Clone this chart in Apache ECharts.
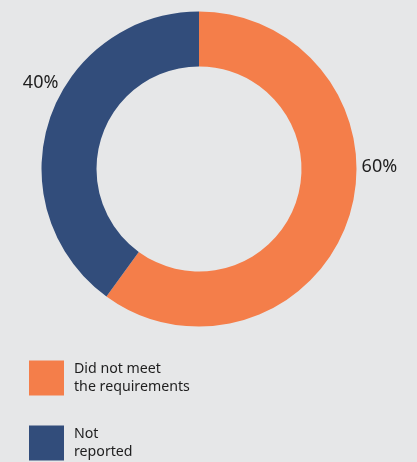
<!DOCTYPE html>
<html>
<head>
<meta charset="utf-8">
<script src="https://cdn.jsdelivr.net/npm/echarts@6/dist/echarts.min.js"></script>
<style>
html,body{margin:0;padding:0;background:#E6E7E8;}
#c{width:417px;height:462px;}
</style>
</head>
<body>
<div id="c"></div>
<script>
const categories = ["Did not meet\nthe requirements", "Not\nreported"];
const values = [60, 40];
const colors = ["#F47E4A", "#324D7B"];

const legendTops = [360, 425];
const labelShift = [[4, -52], [18, -36]];
const chart = echarts.init(document.getElementById('c'), null, {renderer: 'canvas'});
chart.setOption({
  backgroundColor: '#E6E7E8',
  animation: false,
  legend: categories.map((n, i) => ({
    orient: 'vertical',
    left: 29,
    top: legendTops[i],
    padding: 0,
    itemWidth: 35,
    itemHeight: 35,
    icon: 'rect',
    selectedMode: false,
    textStyle: {
      fontFamily: 'Noto Sans',
      fontSize: 14.2,
      lineHeight: 18,
      color: '#1E1E1E',
      padding: [0, 0, 0, 5]
    },
    data: [n]
  })),
  series: [{
    type: 'pie',
    center: [199, 169],
    radius: [102.5, 157.5],
    startAngle: 90,
    clockwise: true,
    silent: true,
    avoidLabelOverlap: false,
    label: {
      show: true,
      position: 'outside',
      formatter: '{c}%',
      fontFamily: 'Noto Sans',
      fontSize: 18,
      color: '#1E1E1E'
    },
    labelLine: {show: false, length: 4, length2: 0},
    labelLayout: function (p) {
      return {dx: labelShift[p.dataIndex][0], dy: labelShift[p.dataIndex][1]};
    },
    data: categories.map((n, i) => ({name: n, value: values[i], itemStyle: {color: colors[i]}}))
  }]
});
</script>
</body>
</html>
